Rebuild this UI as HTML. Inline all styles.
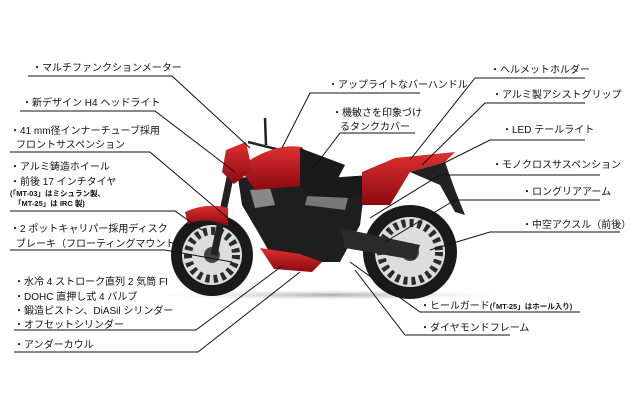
<!DOCTYPE html>
<html><head><meta charset="utf-8"><style>
html,body{margin:0;padding:0;background:#fff;}
svg{display:block}
text{font-family:"Liberation Sans","Noto Sans CJK JP",sans-serif;font-size:10px;fill:#111}
.s{font-size:7.5px;font-weight:bold}
</style></head><body>
<svg width="630" height="420" viewBox="0 0 630 420" xmlns="http://www.w3.org/2000/svg">
<defs>
<radialGradient id="sh" cx="50%" cy="50%" r="50%"><stop offset="0" stop-color="#aaa"/><stop offset="1" stop-color="#fff" stop-opacity="0"/></radialGradient>
<linearGradient id="red" x1="0" y1="0" x2="0" y2="1"><stop offset="0" stop-color="#e03030"/><stop offset="1" stop-color="#8a0a10"/></linearGradient>
</defs>
<ellipse cx="330" cy="295" rx="195" ry="6" fill="url(#sh)"/>
<!-- rear wheel -->
<circle cx="410" cy="252" r="47" fill="#1a1a1a"/>
<circle cx="410" cy="252" r="35" fill="#ddd"/>
<circle cx="410" cy="252" r="29" fill="none" stroke="#2a2a2a" stroke-width="8" stroke-dasharray="4 4"/>
<circle cx="410" cy="252" r="9" fill="#444"/>
<!-- front wheel -->
<circle cx="212" cy="255" r="41" fill="#1a1a1a"/>
<circle cx="212" cy="255" r="30" fill="#ddd"/>
<circle cx="212" cy="255" r="24" fill="none" stroke="#2a2a2a" stroke-width="8" stroke-dasharray="4 4"/>
<circle cx="212" cy="255" r="8" fill="#444"/>
<!-- fork -->
<path d="M232 168 L214 255" stroke="#222" stroke-width="7"/>
<path d="M265 118 L266 145 M248 142 L280 150" stroke="#222" stroke-width="2.5"/>
<!-- front fender -->
<path d="M185 212 Q207 202 228 208 L228 226 Q205 216 188 224 Z" fill="url(#red)"/>
<!-- frame/engine -->
<path d="M238 178 L300 172 L365 185 L360 225 L340 262 L275 262 L258 232 L242 205 Z" fill="#1e1e1e"/>
<path d="M250 190 L270 188 L275 205 L255 208 Z" fill="#888"/>
<path d="M310 185 L350 190 L345 210 L305 205 Z" fill="#777"/>
<path d="M340 228 L420 245 L415 260 L345 248 Z" fill="#2a2a2a"/>
<!-- seat -->
<path d="M300 180 L370 175 L395 172 L385 190 L350 198 L305 196 Z" fill="#1a1a1a"/>
<!-- tail -->
<path d="M362 172 L395 158 L455 152 L445 162 L410 172 L390 205 L362 205 Z" fill="url(#red)"/>
<path d="M410 172 L445 162 L455 190 L465 215 L455 212 L440 185 Z" fill="#222"/>
<!-- tank -->
<path d="M250 160 Q278 143 302 147 L314 168 L300 186 L255 190 L245 176 Z" fill="url(#red)"/>
<path d="M300 148 L345 165 L335 184 L300 186 Z" fill="#1a1a1a"/>
<!-- headlight -->
<path d="M226 150 L246 142 L252 170 L234 184 L222 172 Z" fill="url(#red)"/>
<!-- belly pan -->
<path d="M260 248 L300 254 L322 262 L312 272 L274 269 Z" fill="url(#red)"/>
<!-- lines -->
<g stroke="#111" stroke-width="1" fill="none">
<polyline points="28,76 172,76 250,148"/>
<polyline points="20,111 155,111 235,172"/>
<polyline points="10,152 150,152 236,225"/>
<polyline points="10,211 175,211 202,230"/>
<polyline points="10,250 165,250 232,262"/>
<polyline points="14,330 196,330 282,266"/>
<polyline points="14,352 198,352 300,272"/>
<polyline points="420,93 310,93 282,148"/>
<polyline points="415,133 340,133 312,170"/>
<polyline points="585,78 475,78 410,160"/>
<polyline points="585,103 485,103 422,165"/>
<polyline points="585,140 490,140 440,165"/>
<polyline points="600,175 440,175 370,218"/>
<polyline points="600,200 455,200 385,242"/>
<polyline points="620,232 490,232 430,250"/>
<polyline points="580,312 420,312 350,262"/>
<polyline points="510,335 405,335 355,270"/>
</g>
<text x="32" y="71">・マルチファンクションメーター</text>
<text x="22" y="106">・新デザイン H4 ヘッドライト</text>
<text x="10" y="134">・41 mm径インナーチューブ採用</text>
<text x="16" y="148">フロントサスペンション</text>
<text x="10" y="170">・アルミ鋳造ホイール</text>
<text x="10" y="185">・前後 17 インチタイヤ</text>
<text class="s" x="10" y="196">(「MT-03」はミシュラン製、</text>
<text class="s" x="14" y="206">「MT-25」は IRC 製)</text>
<text x="10" y="232">・2 ポットキャリパー採用ディスク</text>
<text x="16" y="247">ブレーキ（フローティングマウント）</text>
<text x="14" y="285">・水冷 4 ストローク直列 2 気筒 FI</text>
<text x="14" y="300">・DOHC 直押し式 4 バルブ</text>
<text x="14" y="314">・鍛造ピストン、DiASil シリンダー</text>
<text x="14" y="328">・オフセットシリンダー</text>
<text x="14" y="348">・アンダーカウル</text>
<text x="328" y="88">・アップライトなバーハンドル</text>
<text x="332" y="116">・機敏さを印象づけ</text>
<text x="340" y="130">るタンクカバー</text>
<text x="490" y="73">・ヘルメットホルダー</text>
<text x="492" y="98">・アルミ製アシストグリップ</text>
<text x="502" y="133">・LED テールライト</text>
<text x="492" y="168">・モノクロスサスペンション</text>
<text x="522" y="195">・ロングリアアーム</text>
<text x="522" y="228">・中空アクスル（前後）</text>
<text x="420" y="309">・ヒールガード<tspan class="s">(「MT-25」はホール入り)</tspan></text>
<text x="420" y="331">・ダイヤモンドフレーム</text>
</svg>
</body></html>
